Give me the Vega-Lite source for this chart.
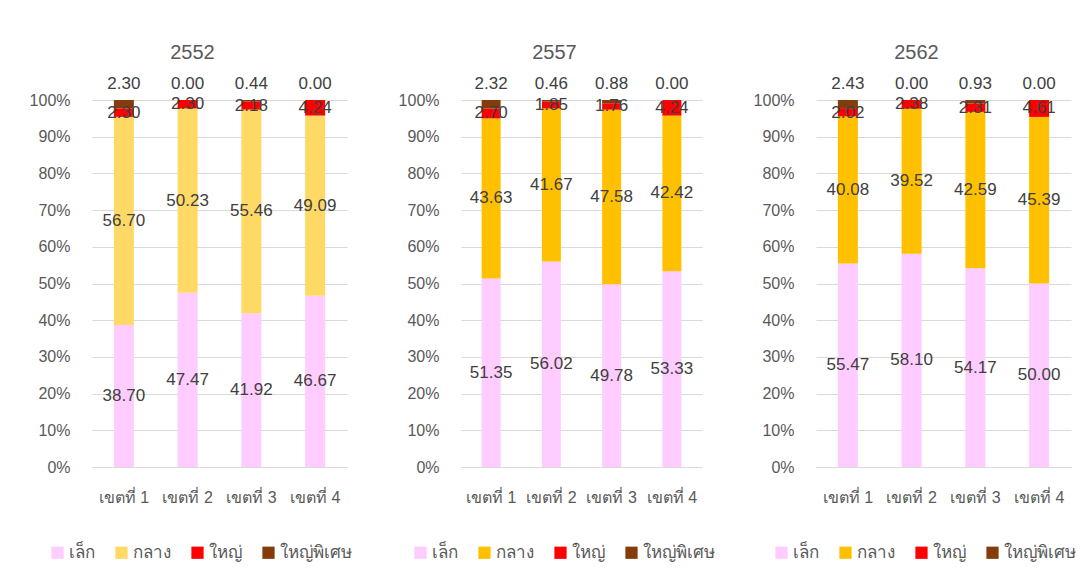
{
  "$schema": "https://vega.github.io/schema/vega-lite/v6.json",
  "padding": {"left": 29, "top": 42, "right": 5, "bottom": 5},
  "background": "white",
  "spacing": 114,
  "bounds": "flush",
  "config": {
    "font": "Liberation Sans",
    "view": {"stroke": null},
    "axis": {"labelFont": "Liberation Sans", "labelColor": "#595959", "labelFontSize": 16, "ticks": false, "title": null},
    "legend": {"labelFont": "Liberation Sans", "labelColor": "#595959", "labelFontSize": 17},
    "title": {"font": "Liberation Sans", "fontSize": 20, "fontWeight": "normal", "color": "#595959", "offset": 12, "dx": -27}
  },
  "data": {"values": [
    {"year": "2552", "district": "เขตที่ 1", "cat": "เล็ก", "value": 38.70},
    {"year": "2552", "district": "เขตที่ 1", "cat": "กลาง", "value": 56.70},
    {"year": "2552", "district": "เขตที่ 1", "cat": "ใหญ่", "value": 2.30},
    {"year": "2552", "district": "เขตที่ 1", "cat": "ใหญ่พิเศษ", "value": 2.30},
    {"year": "2552", "district": "เขตที่ 2", "cat": "เล็ก", "value": 47.47},
    {"year": "2552", "district": "เขตที่ 2", "cat": "กลาง", "value": 50.23},
    {"year": "2552", "district": "เขตที่ 2", "cat": "ใหญ่", "value": 2.30},
    {"year": "2552", "district": "เขตที่ 2", "cat": "ใหญ่พิเศษ", "value": 0.00},
    {"year": "2552", "district": "เขตที่ 3", "cat": "เล็ก", "value": 41.92},
    {"year": "2552", "district": "เขตที่ 3", "cat": "กลาง", "value": 55.46},
    {"year": "2552", "district": "เขตที่ 3", "cat": "ใหญ่", "value": 2.18},
    {"year": "2552", "district": "เขตที่ 3", "cat": "ใหญ่พิเศษ", "value": 0.44},
    {"year": "2552", "district": "เขตที่ 4", "cat": "เล็ก", "value": 46.67},
    {"year": "2552", "district": "เขตที่ 4", "cat": "กลาง", "value": 49.09},
    {"year": "2552", "district": "เขตที่ 4", "cat": "ใหญ่", "value": 4.24},
    {"year": "2552", "district": "เขตที่ 4", "cat": "ใหญ่พิเศษ", "value": 0.00},
    {"year": "2557", "district": "เขตที่ 1", "cat": "เล็ก", "value": 51.35},
    {"year": "2557", "district": "เขตที่ 1", "cat": "กลาง", "value": 43.63},
    {"year": "2557", "district": "เขตที่ 1", "cat": "ใหญ่", "value": 2.70},
    {"year": "2557", "district": "เขตที่ 1", "cat": "ใหญ่พิเศษ", "value": 2.32},
    {"year": "2557", "district": "เขตที่ 2", "cat": "เล็ก", "value": 56.02},
    {"year": "2557", "district": "เขตที่ 2", "cat": "กลาง", "value": 41.67},
    {"year": "2557", "district": "เขตที่ 2", "cat": "ใหญ่", "value": 1.85},
    {"year": "2557", "district": "เขตที่ 2", "cat": "ใหญ่พิเศษ", "value": 0.46},
    {"year": "2557", "district": "เขตที่ 3", "cat": "เล็ก", "value": 49.78},
    {"year": "2557", "district": "เขตที่ 3", "cat": "กลาง", "value": 47.58},
    {"year": "2557", "district": "เขตที่ 3", "cat": "ใหญ่", "value": 1.76},
    {"year": "2557", "district": "เขตที่ 3", "cat": "ใหญ่พิเศษ", "value": 0.88},
    {"year": "2557", "district": "เขตที่ 4", "cat": "เล็ก", "value": 53.33},
    {"year": "2557", "district": "เขตที่ 4", "cat": "กลาง", "value": 42.42},
    {"year": "2557", "district": "เขตที่ 4", "cat": "ใหญ่", "value": 4.24},
    {"year": "2557", "district": "เขตที่ 4", "cat": "ใหญ่พิเศษ", "value": 0.00},
    {"year": "2562", "district": "เขตที่ 1", "cat": "เล็ก", "value": 55.47},
    {"year": "2562", "district": "เขตที่ 1", "cat": "กลาง", "value": 40.08},
    {"year": "2562", "district": "เขตที่ 1", "cat": "ใหญ่", "value": 2.02},
    {"year": "2562", "district": "เขตที่ 1", "cat": "ใหญ่พิเศษ", "value": 2.43},
    {"year": "2562", "district": "เขตที่ 2", "cat": "เล็ก", "value": 58.10},
    {"year": "2562", "district": "เขตที่ 2", "cat": "กลาง", "value": 39.52},
    {"year": "2562", "district": "เขตที่ 2", "cat": "ใหญ่", "value": 2.38},
    {"year": "2562", "district": "เขตที่ 2", "cat": "ใหญ่พิเศษ", "value": 0.00},
    {"year": "2562", "district": "เขตที่ 3", "cat": "เล็ก", "value": 54.17},
    {"year": "2562", "district": "เขตที่ 3", "cat": "กลาง", "value": 42.59},
    {"year": "2562", "district": "เขตที่ 3", "cat": "ใหญ่", "value": 2.31},
    {"year": "2562", "district": "เขตที่ 3", "cat": "ใหญ่พิเศษ", "value": 0.93},
    {"year": "2562", "district": "เขตที่ 4", "cat": "เล็ก", "value": 50.00},
    {"year": "2562", "district": "เขตที่ 4", "cat": "กลาง", "value": 45.39},
    {"year": "2562", "district": "เขตที่ 4", "cat": "ใหญ่", "value": 4.61},
    {"year": "2562", "district": "เขตที่ 4", "cat": "ใหญ่พิเศษ", "value": 0.00}
  ]},
  "resolve": {"scale": {"color": "independent", "x": "independent", "y": "independent"}, "legend": {"color": "independent"}},
  "hconcat": [
    {
      "title": "2552",
      "width": 255, "height": 367,
      "transform": [
        {"filter": "datum.year == '2552'"},
        {"stack": "value", "groupby": ["district"], "as": ["v0", "v1"]}
      ],
      "encoding": {
        "x": {"field": "district", "type": "nominal", "sort": null,
              "axis": {"labelAngle": 0, "labelPadding": 22, "domainColor": "#D9D9D9", "grid": false}},
        "y": {"field": "v0", "type": "quantitative", "scale": {"domain": [0, 100], "nice": false},
              "axis": {"values": [0,10,20,30,40,50,60,70,80,90,100], "labelExpr": "datum.value + '%'", "domain": false, "gridColor": "#D9D9D9", "labelPadding": 22}}
      },
      "layer": [
        {"mark": {"type": "bar", "width": 20},
         "encoding": {
           "y2": {"field": "v1"},
           "color": {"field": "cat", "type": "nominal",
                     "scale": {"domain": ["เล็ก", "กลาง", "ใหญ่", "ใหญ่พิเศษ"], "range": ["#FFCCFF", "#FFD966", "#FF0000", "#843C0C"]},
                     "legend": {"title": null, "orient": "none", "direction": "horizontal", "legendX": -43, "legendY": 444, "symbolType": "square", "symbolSize": 150, "symbolStrokeWidth": 0, "symbolOpacity": 1, "columnPadding": 18, "labelOffset": 3}}
         }},
        {"transform": [
           {"filter": "datum.cat != 'ใหญ่พิเศษ'"},
           {"fold": ["v0", "v1"], "as": ["edge", "pos"]},
           {"aggregate": [{"op": "mean", "field": "pos", "as": "mid"}], "groupby": ["district", "cat", "value"]}
         ],
         "mark": {"type": "text", "fontSize": 17, "color": "#404040"},
         "encoding": {"y": {"field": "mid", "type": "quantitative"}, "text": {"field": "value", "type": "quantitative", "format": ".2f"}}},
        {"transform": [{"filter": "datum.cat == 'ใหญ่พิเศษ'"}],
         "mark": {"type": "text", "fontSize": 17, "color": "#404040", "baseline": "bottom", "dy": -7},
         "encoding": {"y": {"field": "v1", "type": "quantitative"}, "text": {"field": "value", "type": "quantitative", "format": ".2f"}}}
      ]
    },
    {
      "title": "2557",
      "width": 241, "height": 367,
      "transform": [
        {"filter": "datum.year == '2557'"},
        {"stack": "value", "groupby": ["district"], "as": ["v0", "v1"]}
      ],
      "encoding": {
        "x": {"field": "district", "type": "nominal", "sort": null,
              "axis": {"labelAngle": 0, "labelPadding": 22, "domainColor": "#D9D9D9", "grid": false}},
        "y": {"field": "v0", "type": "quantitative", "scale": {"domain": [0, 100], "nice": false},
              "axis": {"values": [0,10,20,30,40,50,60,70,80,90,100], "labelExpr": "datum.value + '%'", "domain": false, "gridColor": "#D9D9D9", "labelPadding": 22}}
      },
      "layer": [
        {"mark": {"type": "bar", "width": 19},
         "encoding": {
           "y2": {"field": "v1"},
           "color": {"field": "cat", "type": "nominal",
                     "scale": {"domain": ["เล็ก", "กลาง", "ใหญ่", "ใหญ่พิเศษ"], "range": ["#FFCCFF", "#FFC000", "#FF0000", "#843C0C"]},
                     "legend": {"title": null, "orient": "none", "direction": "horizontal", "legendX": -49, "legendY": 444, "symbolType": "square", "symbolSize": 150, "symbolStrokeWidth": 0, "symbolOpacity": 1, "columnPadding": 18, "labelOffset": 3}}
         }},
        {"transform": [
           {"filter": "datum.cat != 'ใหญ่พิเศษ'"},
           {"fold": ["v0", "v1"], "as": ["edge", "pos"]},
           {"aggregate": [{"op": "mean", "field": "pos", "as": "mid"}], "groupby": ["district", "cat", "value"]}
         ],
         "mark": {"type": "text", "fontSize": 17, "color": "#404040"},
         "encoding": {"y": {"field": "mid", "type": "quantitative"}, "text": {"field": "value", "type": "quantitative", "format": ".2f"}}},
        {"transform": [{"filter": "datum.cat == 'ใหญ่พิเศษ'"}],
         "mark": {"type": "text", "fontSize": 17, "color": "#404040", "baseline": "bottom", "dy": -7},
         "encoding": {"y": {"field": "v1", "type": "quantitative"}, "text": {"field": "value", "type": "quantitative", "format": ".2f"}}}
      ]
    },
    {
      "title": "2562",
      "width": 255, "height": 367,
      "transform": [
        {"filter": "datum.year == '2562'"},
        {"stack": "value", "groupby": ["district"], "as": ["v0", "v1"]}
      ],
      "encoding": {
        "x": {"field": "district", "type": "nominal", "sort": null,
              "axis": {"labelAngle": 0, "labelPadding": 22, "domainColor": "#D9D9D9", "grid": false}},
        "y": {"field": "v0", "type": "quantitative", "scale": {"domain": [0, 100], "nice": false},
              "axis": {"values": [0,10,20,30,40,50,60,70,80,90,100], "labelExpr": "datum.value + '%'", "domain": false, "gridColor": "#D9D9D9", "labelPadding": 22}}
      },
      "layer": [
        {"mark": {"type": "bar", "width": 20},
         "encoding": {
           "y2": {"field": "v1"},
           "color": {"field": "cat", "type": "nominal",
                     "scale": {"domain": ["เล็ก", "กลาง", "ใหญ่", "ใหญ่พิเศษ"], "range": ["#FFCCFF", "#FFC000", "#FF0000", "#843C0C"]},
                     "legend": {"title": null, "orient": "none", "direction": "horizontal", "legendX": -43, "legendY": 444, "symbolType": "square", "symbolSize": 150, "symbolStrokeWidth": 0, "symbolOpacity": 1, "columnPadding": 18, "labelOffset": 3}}
         }},
        {"transform": [
           {"filter": "datum.cat != 'ใหญ่พิเศษ'"},
           {"fold": ["v0", "v1"], "as": ["edge", "pos"]},
           {"aggregate": [{"op": "mean", "field": "pos", "as": "mid"}], "groupby": ["district", "cat", "value"]}
         ],
         "mark": {"type": "text", "fontSize": 17, "color": "#404040"},
         "encoding": {"y": {"field": "mid", "type": "quantitative"}, "text": {"field": "value", "type": "quantitative", "format": ".2f"}}},
        {"transform": [{"filter": "datum.cat == 'ใหญ่พิเศษ'"}],
         "mark": {"type": "text", "fontSize": 17, "color": "#404040", "baseline": "bottom", "dy": -7},
         "encoding": {"y": {"field": "v1", "type": "quantitative"}, "text": {"field": "value", "type": "quantitative", "format": ".2f"}}}
      ]
    }
  ]
}
